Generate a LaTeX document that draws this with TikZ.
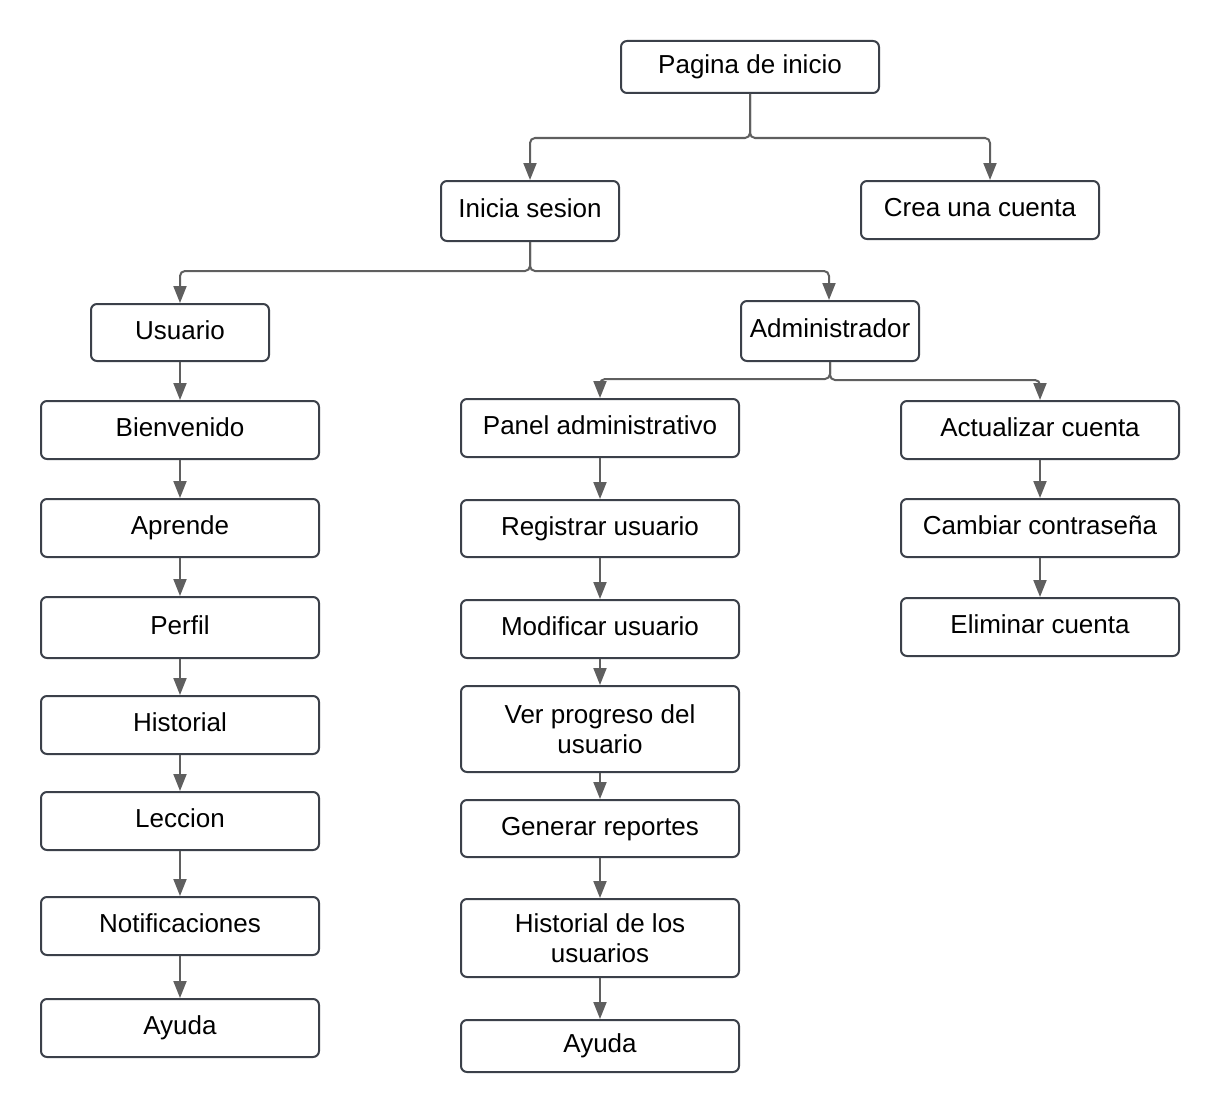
\documentclass[tikz,border=0pt]{standalone}
\usepackage{fontspec}
\setmainfont{Liberation Sans}
\usetikzlibrary{arrows.meta}
\definecolor{boxline}{HTML}{3B4049}
\definecolor{arrowgray}{HTML}{5F5F5F}
\begin{document}
\begin{tikzpicture}[x=1pt,y=-1pt,
  box/.style={draw=boxline, line width=2pt, rounded corners=6pt, fill=white,
    inner sep=0pt, font=\fontsize{26}{30}\selectfont, align=center},
  one/.style={text height=19pt, text depth=6pt},
  lcol/.style={box, one, minimum width=278pt, minimum height=58pt},
  conn/.style={draw=arrowgray, line width=2pt, rounded corners=5pt,
    -{Triangle[length=17pt,width=13pt]}},
  link/.style={draw=arrowgray, line width=2pt,
    -{Triangle[length=17pt,width=13pt]}},
]
\useasboundingbox (0,0) rectangle (1220,1113);

% top
\node[box,one,minimum width=258pt,minimum height=52pt] (pag) at (750,67) {Pagina de inicio};
\node[box,one,minimum width=178pt,minimum height=60pt] (ini) at (530,211) {Inicia sesion};
\node[box,one,minimum width=238pt,minimum height=58pt] (crea) at (980,210) {Crea una cuenta};
\node[box,one,minimum width=178pt,minimum height=57pt] (usu) at (180,332.5) {Usuario};
\node[box,one,minimum width=178pt,minimum height=60pt] (adm) at (830,331) {Administrador};

% left column
\node[lcol] (bien) at (180,430) {Bienvenido};
\node[lcol] (apr) at (180,528) {Aprende};
\node[lcol,minimum height=61pt] (perf) at (180,627.5) {Perfil};
\node[lcol] (hist) at (180,725) {Historial};
\node[lcol] (lec) at (180,821) {Leccion};
\node[lcol] (notif) at (180,926) {Notificaciones};
\node[lcol] (ayu1) at (180,1028) {Ayuda};

% middle column
\node[lcol] (pan) at (600,428) {Panel administrativo};
\node[lcol,minimum height=57pt] (reg) at (600,528.5) {Registrar usuario};
\node[lcol] (mod) at (600,629) {Modificar usuario};
\node[box,minimum width=278pt,minimum height=86pt] (ver) at (600,729) {Ver progreso del\\usuario};
\node[lcol,minimum height=57pt] (gen) at (600,828.5) {Generar reportes};
\node[box,minimum width=278pt,minimum height=78pt] (histu) at (600,938) {Historial de los\\usuarios};
\node[lcol,minimum height=52pt] (ayu2) at (600,1046) {Ayuda};

% right column
\node[lcol] (act) at (1040,430) {Actualizar cuenta};
\node[lcol] (camb) at (1040,528) {Cambiar contraseña};
\node[lcol] (elim) at (1040,627) {Eliminar cuenta};

% branching connectors
\draw[conn] (pag.south) -- ++(0,44) -| (ini.north);
\draw[conn] (pag.south) -- ++(0,44) -| ([xshift=10pt]crea.north);
\draw[conn] (ini.south) -- ++(0,29) -| (usu.north);
\draw[conn] (ini.south) -- ++(0,29) -| ([xshift=-1pt]adm.north);
\draw[conn] (adm.south) -- ++(0,17) -| (pan.north);
\draw[conn] (adm.south) -- ++(0,18) -| (act.north);

% chains
\draw[link] (usu.south) -- (bien.north);
\draw[link] (bien.south) -- (apr.north);
\draw[link] (apr.south) -- (perf.north);
\draw[link] (perf.south) -- (hist.north);
\draw[link] (hist.south) -- (lec.north);
\draw[link] (lec.south) -- (notif.north);
\draw[link] (notif.south) -- (ayu1.north);

\draw[link] (pan.south) -- (reg.north);
\draw[link] (reg.south) -- (mod.north);
\draw[link] (mod.south) -- (ver.north);
\draw[link] (ver.south) -- (gen.north);
\draw[link] (gen.south) -- (histu.north);
\draw[link] (histu.south) -- (ayu2.north);

\draw[link] (act.south) -- (camb.north);
\draw[link] (camb.south) -- (elim.north);
\end{tikzpicture}
\end{document}
